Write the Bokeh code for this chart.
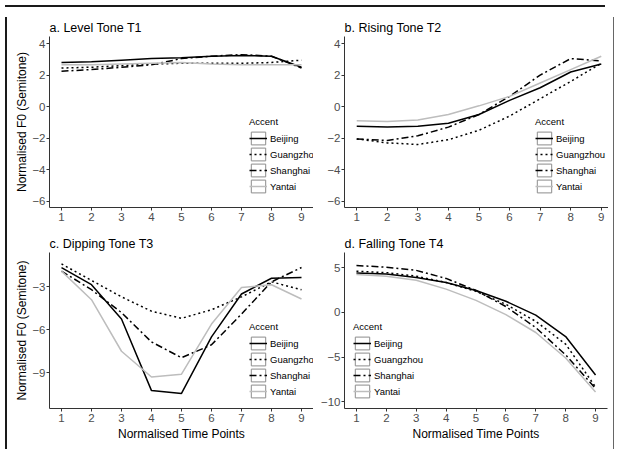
import numpy as np
from bokeh.plotting import figure
from bokeh.layouts import row, column
from bokeh.models import Legend, LegendItem, FixedTicker, Range1d, ColumnDataSource, Div
from bokeh.embed import file_html
from bokeh.resources import INLINE

time_points = [1, 2, 3, 4, 5, 6, 7, 8, 9]
accents = ["Beijing", "Guangzhou", "Shanghai", "Yantai"]

# T1 level tone
t1_beijing = [2.8, 2.85, 2.95, 3.05, 3.1, 3.2, 3.25, 3.2, 2.5]
t1_guangzhou = [2.45, 2.5, 2.6, 2.7, 2.75, 2.75, 2.75, 2.8, 2.95]
t1_shanghai = [2.25, 2.35, 2.5, 2.65, 3.05, 3.2, 3.3, 3.2, 2.45]
t1_yantai = [2.65, 2.65, 2.7, 2.75, 2.8, 2.7, 2.65, 2.65, 2.65]

# T2 rising tone
t2_beijing = [-1.25, -1.3, -1.25, -1.05, -0.5, 0.4, 1.2, 2.2, 2.7]
t2_guangzhou = [-2.05, -2.3, -2.4, -2.1, -1.5, -0.6, 0.5, 1.6, 2.75]
t2_shanghai = [-2.05, -2.15, -1.85, -1.3, -0.5, 0.65, 2.0, 3.05, 2.9]
t2_yantai = [-0.9, -0.95, -0.85, -0.5, 0.05, 0.65, 1.5, 2.35, 3.2]

# T3 dipping tone
t3_beijing = [-1.65, -2.85, -5.25, -10.25, -10.45, -6.5, -3.5, -2.4, -2.35]
t3_guangzhou = [-1.4, -2.55, -3.7, -4.7, -5.2, -4.6, -3.7, -2.65, -3.2]
t3_shanghai = [-1.9, -3.2, -4.8, -6.85, -7.95, -7.05, -4.9, -2.65, -1.65]
t3_yantai = [-1.9, -3.9, -7.5, -9.3, -9.1, -5.6, -3.05, -2.85, -3.85]

# T4 falling tone
t4_beijing = [4.4, 4.3, 3.9, 3.35, 2.45, 1.25, -0.3, -2.7, -7.0]
t4_guangzhou = [4.6, 4.45, 4.05, 3.35, 2.35, 0.9, -1.0, -3.55, -8.35]
t4_shanghai = [5.25, 5.05, 4.7, 3.8, 2.45, 0.65, -1.7, -4.75, -8.5]
t4_yantai = [4.25, 4.05, 3.6, 2.6, 1.35, -0.25, -2.25, -5.1, -8.9]

titles = ["a. Level Tone T1", "b. Rising Tone T2", "c. Dipping Tone T3", "d. Falling Tone T4"]
y_ticks_t1 = [-6, -4, -2, 0, 2, 4]
y_ticks_t2 = [-6, -4, -2, 0, 2, 4]
y_ticks_t3 = [-9, -6, -3]
y_ticks_t4 = [-10, -5, 0, 5]

FONT = "Liberation Sans"
line_colors = {"Beijing": "black", "Guangzhou": "black", "Shanghai": "black", "Yantai": "#bdbdbd"}
line_dashes = {"Beijing": "solid", "Guangzhou": "2 3", "Shanghai": "7 3 2 3", "Yantai": "solid"}


def make_panel(title, series, y_rng, y_ticks, fw, fh, b_left, b_right, b_top, b_bottom,
               ylabel, xlabel, leg_xy):
    p = figure(frame_width=fw, frame_height=fh, output_backend="svg", toolbar_location=None,
               x_range=Range1d(0.6, 9.4), y_range=Range1d(*y_rng),
               min_border_left=b_left, min_border_right=b_right,
               min_border_top=b_top, min_border_bottom=b_bottom)
    p.title.text = title
    p.title.text_font = FONT
    p.title.text_font_size = "12.5px"
    p.title.text_font_style = "normal"
    p.title.text_color = "black"
    p.title.standoff = 3
    p.outline_line_color = None
    p.xgrid.visible = False
    p.ygrid.visible = False
    p.background_fill_color = "white"
    p.border_fill_color = "white"
    for ax in (p.xaxis[0], p.yaxis[0]):
        ax.axis_line_color = "#333333"
        ax.major_tick_line_color = "#333333"
        ax.major_tick_out = 3
        ax.major_tick_in = 0
        ax.minor_tick_line_color = None
        ax.major_label_text_font = FONT
        ax.major_label_text_font_size = "11.5px"
        ax.major_label_text_color = "#4d4d4d"
        ax.axis_label_text_font = FONT
        ax.axis_label_text_font_size = "12px"
        ax.axis_label_text_font_style = "normal"
        ax.axis_label_text_color = "black"
    p.xaxis.major_label_standoff = 2
    p.xaxis.axis_label_standoff = 2
    p.yaxis.major_label_standoff = 1
    p.yaxis.axis_label_standoff = 0
    p.xaxis.ticker = FixedTicker(ticks=time_points)
    p.yaxis.ticker = FixedTicker(ticks=y_ticks)
    if ylabel:
        p.yaxis.axis_label = "Normalised F0 (Semitone)"
    if xlabel:
        p.xaxis.axis_label = "Normalised Time Points"

    items = []
    for name, vals in zip(accents, series):
        src = ColumnDataSource(dict(x=time_points, y=vals))
        box = p.rect(x=np.array([np.nan]), y=np.array([np.nan]), width=1, height=1,
                     fill_alpha=0, line_color="#8c8c8c", line_width=1)
        ln = p.line("x", "y", source=src, line_color=line_colors[name],
                    line_dash=line_dashes[name], line_width=1.5)
        items.append(LegendItem(label=name, renderers=[box, ln]))
    leg = Legend(items=items, location=leg_xy, title="Accent",
                 title_text_font=FONT, title_text_font_size="9.5px", title_text_font_style="normal",
                 title_text_color="black", title_standoff=3,
                 label_text_font=FONT, label_text_font_size="9.5px", label_text_color="black",
                 glyph_width=18, glyph_height=16, label_height=16, spacing=0,
                 padding=0, margin=0, label_standoff=3,
                 border_line_color=None, background_fill_alpha=0)
    p.add_layout(leg)
    return p


pa = make_panel(titles[0], [t1_beijing, t1_guangzhou, t1_shanghai, t1_yantai], (-6.4, 4.45), y_ticks_t1,
                264, 171, 30, 0, 24, 18, True, False, (200, 13))
pb = make_panel(titles[1], [t2_beijing, t2_guangzhou, t2_shanghai, t2_yantai], (-6.4, 4.45), y_ticks_t2,
                269, 171, 25, 1, 24, 18, False, False, (200, 13))
pc = make_panel(titles[2], [t3_beijing, t3_guangzhou, t3_shanghai, t3_yantai], (-11.5, -0.6), y_ticks_t3,
                264, 156, 30, 0, 27, 36, True, True, (200, 9))
pd = make_panel(titles[3], [t4_beijing, t4_guangzhou, t4_shanghai, t4_yantai], (-10.75, 6.7), y_ticks_t4,
                263, 156, 31, 1, 27, 36, False, True, (9, 9))

grid = row(column(pa, pc), column(pb, pd))

GRID_H = 213 + 219
top_line = Div(text="", width=600, height=2, styles={"background-color": "#1a1a1a"})
left_line = Div(text="", width=2, height=GRID_H, styles={"background-color": "#1a1a1a"})
right_line = Div(text="", width=1, height=GRID_H, styles={"background-color": "#666666"})

page = column(top_line, row(left_line, grid, right_line))

open("out.html", "w").write(file_html(page, INLINE))
